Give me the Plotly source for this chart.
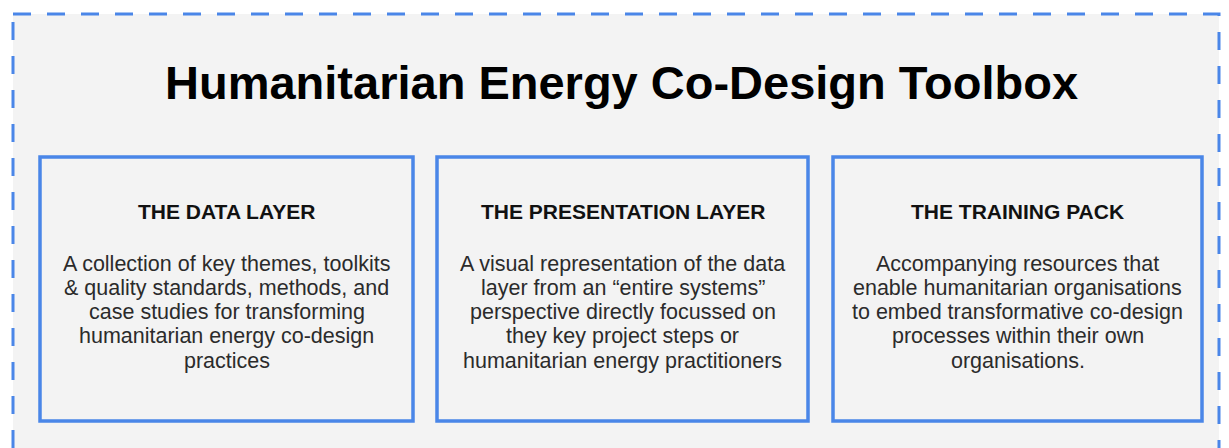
import plotly.graph_objects as go

# ---- content ----
title_text = "Humanitarian Energy Co-Design Toolbox"
box_headings = ["THE DATA LAYER", "THE PRESENTATION LAYER", "THE TRAINING PACK"]
box_descriptions = [
    ["A collection of key themes, toolkits",
     "& quality standards, methods, and",
     "case studies for transforming",
     "humanitarian energy co-design",
     "practices"],
    ["A visual representation of the data",
     "layer from an \u201centire systems\u201d",
     "perspective directly focussed on",
     "they key project steps or",
     "humanitarian energy practitioners"],
    ["Accompanying resources that",
     "enable humanitarian organisations",
     "to embed transformative co-design",
     "processes within their own",
     "organisations."],
]

# ---- layout geometry (page pixels) ----
W, H = 1229, 448
OFF = 8  # page body margin
box_x = [(40, 413), (437, 808), (833, 1202)]
box_y = (157, 421)
BLUE = "#4a86e8"
GREY = "#f3f3f3"
FONT = "Arial, Liberation Sans, sans-serif"
LINE0, LINE_STEP = 263.5, 24.3

fig = go.Figure()

shapes = [
    dict(type="rect", xref="x", yref="y", x0=13, y0=14, x1=1219, y1=470,
         fillcolor=GREY, line=dict(color=BLUE, width=3, dash="18px,16px"), layer="below"),
]
for (x0, x1) in box_x:
    shapes.append(dict(type="rect", xref="x", yref="y", x0=x0, y0=box_y[0], x1=x1, y1=box_y[1],
                       fillcolor=GREY, line=dict(color=BLUE, width=3.5), layer="below"))

annotations = [
    dict(x=621, y=82, xref="x", yref="y", text="<b>" + title_text + "</b>",
         showarrow=False, font=dict(family=FONT, size=47, color="#000000"),
         xanchor="center", yanchor="middle"),
]
for (x0, x1), head, desc in zip(box_x, box_headings, box_descriptions):
    cx = (x0 + x1) / 2
    annotations.append(dict(x=cx, y=211, xref="x", yref="y", text="<b>" + head + "</b>",
                            showarrow=False, font=dict(family=FONT, size=21, color="#111111"),
                            xanchor="center", yanchor="middle"))
    for i, line in enumerate(desc):
        annotations.append(dict(x=cx, y=LINE0 + i * LINE_STEP, xref="x", yref="y", text=line,
                                showarrow=False, align="center",
                                font=dict(family=FONT, size=21.5, color="#2b2b2b"),
                                xanchor="center", yanchor="middle"))

fig.update_layout(
    width=W, height=H,
    margin=dict(l=0, r=0, t=0, b=0),
    paper_bgcolor="white", plot_bgcolor="white",
    xaxis=dict(range=[OFF, W + OFF], visible=False, fixedrange=True),
    yaxis=dict(range=[H + OFF, OFF], visible=False, fixedrange=True),
    shapes=shapes, annotations=annotations, showlegend=False,
)

fig.write_html("out.html", config={"displayModeBar": False})
